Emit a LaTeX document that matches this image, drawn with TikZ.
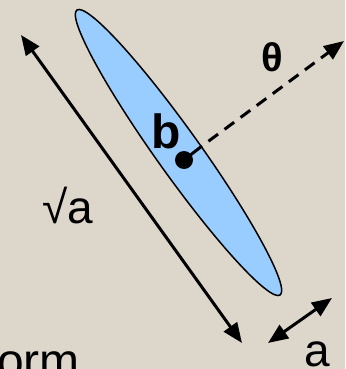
\documentclass[tikz,border=0pt]{standalone}
\usepackage{fontspec}
\setmainfont{Liberation Sans}
\usetikzlibrary{arrows.meta,shapes.geometric}
\definecolor{bg}{RGB}{221,214,203}
\definecolor{blobblue}{RGB}{153,204,255}
\begin{document}
\begin{tikzpicture}[x=1pt,y=-1pt,
  dim/.style={line width=3pt,{Triangle[length=20pt,width=16pt]}-{Triangle[length=20pt,width=16pt]}},
  lbl/.style={font=\fontsize{46}{46}\selectfont, inner sep=0pt, anchor=base west},
  ]
\fill[bg] (0,0) rectangle (345,369);
\useasboundingbox (0,0) rectangle (345,369);
\node[ellipse, draw, line width=1.5pt, fill=blobblue, minimum width=350pt,
      minimum height=44pt, inner sep=0pt, rotate=-54.5] (blob) at (178.5,152.5) {};
\node[circle, fill=black, minimum size=18pt, inner sep=0pt] (dot) at (184,160) {};
\coordinate (edge) at (202,146);
\coordinate (thetatip) at (344,41);
\draw[line width=3pt] (dot.center) -- (edge);
\draw[line width=3pt, dash pattern=on 12pt off 8pt, dash phase=12pt, -{Triangle[length=20pt,width=16pt]}] (edge) -- (thetatip);
\coordinate (la1) at (21,35);
\coordinate (la2) at (242,343);
\draw[dim] (la1) -- (la2);
\coordinate (sa1) at (332,298);
\coordinate (sa2) at (268,343);
\draw[dim] (sa1) -- (sa2);
\node[lbl] (sqrta) at (42,223) {√a};
\node[lbl, font=\fontsize{48}{48}\selectfont\bfseries] (blabel) at (151,148) {b};
\node[lbl, font=\fontsize{40}{40}\selectfont\bfseries] (theta) at (261,71) {θ};
\node[lbl] (alabel) at (304,366) {a};
\node[lbl, font=\fontsize{48}{48}\selectfont] (orm) at (-3,377) {orm};
\end{tikzpicture}
\end{document}
